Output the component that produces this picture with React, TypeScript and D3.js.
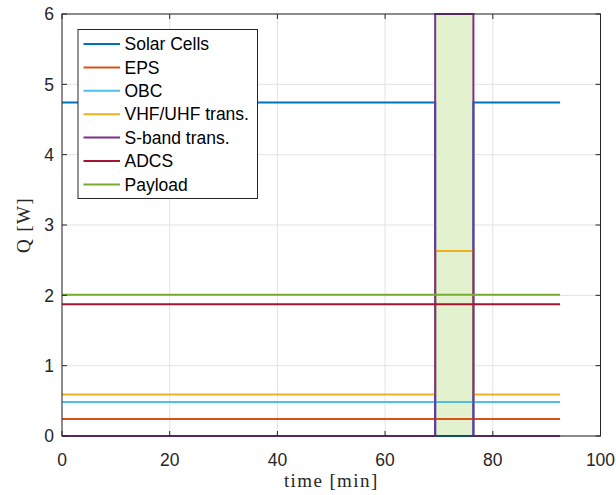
import React from "react";
import * as d3 from "d3";

const seriesNames = ["Solar Cells", "EPS", "OBC", "VHF/UHF trans.", "S-band trans.", "ADCS", "Payload"];
const seriesColors = ["#0072BD", "#D95319", "#4DBEEE", "#EDB120", "#7E2F8E", "#A2142F", "#77AC30"];
// step points: time [min]
const stepTimes = [0, 69.3, 69.3, 76.4, 76.4, 92.5];
const solarCells = [4.74, 4.74, 0, 0, 4.74, 4.74];
const eps = [0.242, 0.242, 0.242, 0.242, 0.242, 0.242];
const obc = [0.485, 0.485, 0.485, 0.485, 0.485, 0.485];
const vhfUhf = [0.59, 0.59, 2.63, 2.63, 0.59, 0.59];
const sBand = [0, 0, 6, 6, 0, 0];
const adcs = [1.873, 1.873, 1.873, 1.873, 1.873, 1.873];
const payload = [2.01, 2.01, 2.01, 2.01, 2.01, 2.01];
const seriesValues = [solarCells, eps, obc, vhfUhf, sBand, adcs, payload];
const windowStart = 69.3;
const windowEnd = 76.4;
const xTicks = [0, 20, 40, 60, 80, 100];
const yTicks = [0, 1, 2, 3, 4, 5, 6];

export default function App() {
  const W = 616, H = 495;
  const left = 62, right = 600.5, top = 14, bottom = 436;
  const x = d3.scaleLinear().domain([0, 100]).range([left, right]);
  const y = d3.scaleLinear().domain([0, 6]).range([bottom, top]);
  const line = d3.line<[number, number]>().x(d => x(d[0])).y(d => y(d[1]));
  const axisColor = "#262626";
  const font = "'Liberation Sans', Arial, sans-serif";
  const serif = "'Liberation Serif', 'DejaVu Serif', serif";
  const legX = 78, legY = 29.5, legW = 179.5, legH = 169, rowStart = 44, rowStep = 23.4;
  return (
    <svg width={W} height={H} style={{ position: "absolute", left: 0, top: 0 }}>
      <rect x={0} y={0} width={W} height={H} fill="#fff" />
      {xTicks.map(t => (
        <line key={"gx" + t} x1={x(t)} x2={x(t)} y1={top} y2={bottom} stroke="#e3e3e3" strokeWidth={1} />
      ))}
      {yTicks.map(t => (
        <line key={"gy" + t} x1={left} x2={right} y1={y(t)} y2={y(t)} stroke="#e3e3e3" strokeWidth={1} />
      ))}
      <rect x={x(windowStart)} y={y(6)} width={x(windowEnd) - x(windowStart)} height={y(0) - y(6)} fill="#E3F2CE" />
      {seriesValues.map((vals, i) => (
        <path key={seriesNames[i]} d={line(stepTimes.map((t, j) => [t, vals[j]] as [number, number])) || ""}
          fill="none" stroke={seriesColors[i]} strokeWidth={2} />
      ))}
      <rect x={left} y={top} width={right - left} height={bottom - top} fill="none" stroke={axisColor} strokeWidth={1} />
      {xTicks.map(t => (
        <g key={"tx" + t}>
          <line x1={x(t)} x2={x(t)} y1={bottom} y2={bottom - 5} stroke={axisColor} />
          <line x1={x(t)} x2={x(t)} y1={top} y2={top + 5} stroke={axisColor} />
          <text x={x(t)} y={466} textAnchor="middle" fontFamily={font} fontSize={17.5} fill={axisColor}>{t}</text>
        </g>
      ))}
      {yTicks.map(t => (
        <g key={"ty" + t}>
          <line x1={left} x2={left + 5} y1={y(t)} y2={y(t)} stroke={axisColor} />
          <line x1={right} x2={right - 5} y1={y(t)} y2={y(t)} stroke={axisColor} />
          <text x={54} y={y(t) + 6.3} textAnchor="end" fontFamily={font} fontSize={17.5} fill={axisColor}>{t}</text>
        </g>
      ))}
      <text x={(left + right) / 2} y={487} textAnchor="middle" fontFamily={serif} fontSize={19} letterSpacing={1.4} fill={axisColor}>time [min]</text>
      <text transform={`translate(30, ${(top + bottom) / 2}) rotate(-90)`} textAnchor="middle" fontFamily={serif} fontSize={19} letterSpacing={1.4} fill={axisColor}>Q [W]</text>
      <rect x={legX} y={legY} width={legW} height={legH} fill="#fff" stroke={axisColor} strokeWidth={1} />
      {seriesNames.map((n, i) => (
        <g key={"leg" + n}>
          <line x1={83.5} x2={120} y1={rowStart + i * rowStep} y2={rowStart + i * rowStep} stroke={seriesColors[i]} strokeWidth={2} />
          <text x={124.5} y={rowStart + i * rowStep + 6.2} fontFamily={font} fontSize={17.5} fill="#000">{n}</text>
        </g>
      ))}
    </svg>
  );
}
